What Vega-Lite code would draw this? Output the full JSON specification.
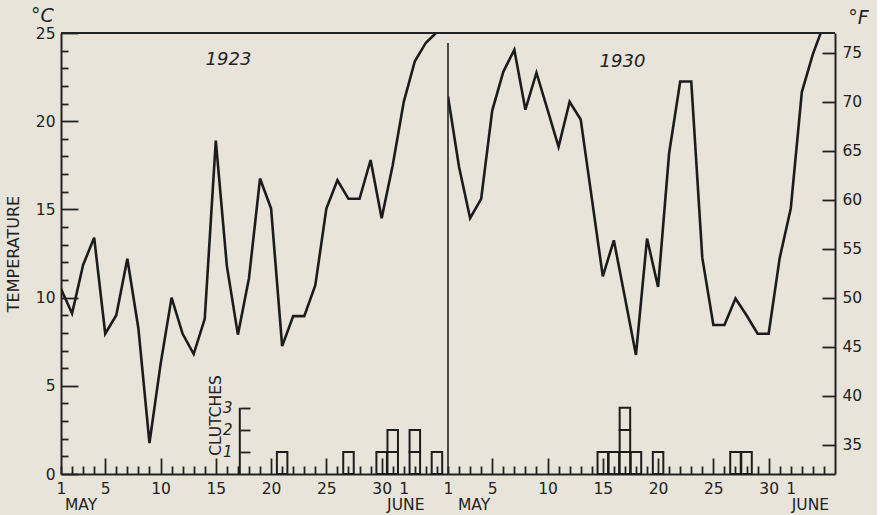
{
  "$schema": "https://vega.github.io/schema/vega-lite/v6.json",
  "background": "#e9e4da",
  "padding": {"left": 5, "top": 6, "right": 8, "bottom": 2},
  "spacing": 0,
  "bounds": "flush",
  "config": {
    "view": {"stroke": null},
    "font": "DejaVu Sans",
    "axis": {
      "grid": false,
      "domainColor": "#222",
      "domainWidth": 2,
      "tickColor": "#222",
      "tickWidth": 1.8,
      "labelColor": "#222",
      "titleColor": "#222",
      "labelFont": "DejaVu Sans",
      "titleFont": "DejaVu Sans",
      "labelFontSize": 15.5,
      "titleFontSize": 16,
      "titleFontWeight": "normal",
      "labelFlush": false,
      "labelOverlap": false,
      "labelBound": false
    }
  },
  "datasets": {
    "t1923": [
      {"day": 1, "temp": 10.5}, {"day": 2, "temp": 9.1}, {"day": 3, "temp": 11.85}, {"day": 4, "temp": 13.4},
      {"day": 5, "temp": 7.95}, {"day": 6, "temp": 9.0}, {"day": 7, "temp": 12.2}, {"day": 8, "temp": 8.25},
      {"day": 9, "temp": 1.75}, {"day": 10, "temp": 6.2}, {"day": 11, "temp": 10.0}, {"day": 12, "temp": 7.95},
      {"day": 13, "temp": 6.8}, {"day": 14, "temp": 8.8}, {"day": 15, "temp": 18.9}, {"day": 16, "temp": 11.8},
      {"day": 17, "temp": 7.9}, {"day": 18, "temp": 11.1}, {"day": 19, "temp": 16.75}, {"day": 20, "temp": 15.05},
      {"day": 21, "temp": 7.25}, {"day": 22, "temp": 8.95}, {"day": 23, "temp": 8.95}, {"day": 24, "temp": 10.7},
      {"day": 25, "temp": 15.05}, {"day": 26, "temp": 16.65}, {"day": 27, "temp": 15.6}, {"day": 28, "temp": 15.6},
      {"day": 29, "temp": 17.8}, {"day": 30, "temp": 14.5}, {"day": 31, "temp": 17.5}, {"day": 32, "temp": 21.1},
      {"day": 33, "temp": 23.4}, {"day": 34, "temp": 24.45}, {"day": 35, "temp": 25.05}
    ],
    "t1930": [
      {"day": 1, "temp": 21.4}, {"day": 2, "temp": 17.4}, {"day": 3, "temp": 14.5}, {"day": 4, "temp": 15.6},
      {"day": 5, "temp": 20.6}, {"day": 6, "temp": 22.8}, {"day": 7, "temp": 24.05}, {"day": 8, "temp": 20.65},
      {"day": 9, "temp": 22.75}, {"day": 10, "temp": 20.65}, {"day": 11, "temp": 18.55}, {"day": 12, "temp": 21.1},
      {"day": 13, "temp": 20.1}, {"day": 14, "temp": 15.65}, {"day": 15, "temp": 11.2}, {"day": 16, "temp": 13.25},
      {"day": 17, "temp": 10.0}, {"day": 18, "temp": 6.75}, {"day": 19, "temp": 13.35}, {"day": 20, "temp": 10.6},
      {"day": 21, "temp": 18.2}, {"day": 22, "temp": 22.25}, {"day": 23, "temp": 22.25}, {"day": 24, "temp": 12.25},
      {"day": 25, "temp": 8.45}, {"day": 26, "temp": 8.45}, {"day": 27, "temp": 9.95}, {"day": 28, "temp": 9.0},
      {"day": 29, "temp": 7.95}, {"day": 30, "temp": 7.95}, {"day": 31, "temp": 12.25}, {"day": 32, "temp": 15.05},
      {"day": 33, "temp": 21.65}, {"day": 34, "temp": 23.8}, {"day": 35, "temp": 25.5}
    ],
    "c1923": [
      {"day": 21, "n": 1}, {"day": 27, "n": 1}, {"day": 30, "n": 1}, {"day": 31, "n": 1}, {"day": 31, "n": 1},
      {"day": 33, "n": 1}, {"day": 33, "n": 1}, {"day": 35, "n": 1}
    ],
    "c1930": [
      {"day": 15, "n": 1}, {"day": 16, "n": 1}, {"day": 17, "n": 1}, {"day": 17, "n": 1}, {"day": 17, "n": 1},
      {"day": 18, "n": 1}, {"day": 20, "n": 1}, {"day": 27, "n": 1}, {"day": 28, "n": 1}
    ]
  },
  "hconcat": [
    {
      "width": 387,
      "height": 441,
      "title": {"text": "1923", "fontSize": 18, "fontStyle": "italic", "fontWeight": "normal", "font": "DejaVu Sans", "color": "#222", "anchor": "middle", "frame": "group", "offset": -33, "baseline": "alphabetic", "dx": -26, "dy": 44},
      "layer": [
        {
          "data": {"name": "t1923"},
          "mark": {"type": "line", "color": "#1c1c1c", "strokeWidth": 2.6, "clip": true},
          "encoding": {
            "x": {
              "field": "day", "type": "quantitative",
              "scale": {"domain": [1, 36], "nice": false, "zero": false, "padding": 0},
              "axis": {
                "orient": "bottom",
                "values": [1,2,3,4,5,6,7,8,9,10,11,12,13,14,15,16,17,18,19,20,21,22,23,24,25,26,27,28,29,30,31,32,33,34,35],
                "tickSize": {"condition": {"test": "datum.value % 5 === 0 && datum.value <= 30", "value": -16}, "value": -8},
                "labelPadding": {"condition": {"test": "datum.value % 5 === 0 && datum.value <= 30", "value": 23}, "value": 15},
                "labelExpr": "(datum.value === 1 || datum.value === 32) ? '1' : (datum.value % 5 === 0 && datum.value <= 30) ? datum.label : ''",
                "title": null
              }
            },
            "y": {
              "field": "temp", "type": "quantitative",
              "scale": {"domain": [0, 25], "nice": false, "zero": false},
              "axis": {
                "orient": "left",
                "values": [0,1,2,3,4,5,6,7,8,9,10,11,12,13,14,15,16,17,18,19,20,21,22,23,24,25],
                "tickSize": {"condition": {"test": "datum.value % 5 === 0", "value": -17}, "value": -7},
                "labelPadding": {"condition": {"test": "datum.value % 5 === 0", "value": 23}, "value": 13},
                "labelExpr": "datum.value % 5 === 0 ? datum.label : ''",
                "labelBaseline": "middle",
                "title": "TEMPERATURE",
                "titleX": -48,
                "titleY": 220.5,
                "titleAngle": 270,
                "titleBaseline": "middle",
                "titleAlign": "center",
                "titleFontSize": 16
              }
            }
          }
        },
        {
          "data": {"values": [{}]},
          "mark": {"type": "rule", "color": "#222", "strokeWidth": 2},
          "encoding": {
            "x": {"datum": 1, "type": "quantitative", "axis": null},
            "x2": {"datum": 36},
            "y": {
              "datum": 25, "type": "quantitative",
              "scale": {"domain": [0, 25], "nice": false, "zero": false},
              "axis": {
                "orient": "left", "domain": false, "ticks": false, "labels": false,
                "title": "°C", "titleAngle": 0, "titleX": -19, "titleY": -12,
                "titleAlign": "center", "titleBaseline": "alphabetic",
                "titleFontSize": 19, "titleFontStyle": "italic"
              }
            }
          }
        },
        {
          "data": {"name": "c1923"},
          "mark": {"type": "bar", "orient": "vertical", "fill": "transparent", "stroke": "#1c1c1c", "strokeWidth": 2, "width": 10.5},
          "encoding": {
            "x": {"field": "day", "type": "quantitative", "axis": null},
            "y": {
              "field": "n", "type": "quantitative", "stack": "zero",
              "scale": {"domain": [0, 20], "nice": false, "zero": true},
              "axis": {
                "orient": "left", "offset": -179, "values": [1, 2, 3], "domain": false,
                "tickSize": -10, "labelPadding": 18,
                "labelFontStyle": "italic", "labelFontSize": 15, "labelBaseline": "middle",
                "title": "CLUTCHES", "titleX": -20, "titleY": 382, "titleAngle": 270,
                "titleAlign": "center", "titleBaseline": "alphabetic", "titleFontSize": 15.5
              }
            }
          }
        },
        {
          "data": {"values": [{}]},
          "mark": {"type": "rule", "color": "#1c1c1c", "strokeWidth": 2},
          "encoding": {
            "x": {"datum": 17.17, "type": "quantitative", "axis": null},
            "y": {"datum": 0, "type": "quantitative", "scale": {"domain": [0, 20], "nice": false, "zero": true}, "axis": null},
            "y2": {"datum": 3}
          }
        },
        {
          "data": {"values": [{"day": 1, "month": "MAY"}]},
          "mark": {"type": "text", "align": "left", "baseline": "alphabetic", "dx": 4, "fontSize": 15.5, "color": "#222"},
          "encoding": {
            "x": {"field": "day", "type": "quantitative", "axis": null},
            "y": {"datum": -2.05, "type": "quantitative", "scale": {"domain": [0, 25], "nice": false, "zero": false}, "axis": null},
            "text": {"field": "month"}
          }
        },
        {
          "data": {"values": [{"day": 32, "month": "JUNE"}]},
          "mark": {"type": "text", "align": "center", "baseline": "alphabetic", "dx": 2, "fontSize": 15.5, "color": "#222"},
          "encoding": {
            "x": {"field": "day", "type": "quantitative", "axis": null},
            "y": {"datum": -2.05, "type": "quantitative", "scale": {"domain": [0, 25], "nice": false, "zero": false}, "axis": null},
            "text": {"field": "month"}
          }
        }
      ],
      "resolve": {"scale": {"y": "independent"}, "axis": {"x": "independent", "y": "independent"}}
    },
    {
      "width": 387,
      "height": 441,
      "title": {"text": "1930", "fontSize": 18, "fontStyle": "italic", "fontWeight": "normal", "font": "DejaVu Sans", "color": "#222", "anchor": "middle", "frame": "group", "offset": -33, "baseline": "alphabetic", "dx": -19, "dy": 44},
      "layer": [
        {
          "data": {"name": "t1930"},
          "mark": {"type": "line", "color": "#1c1c1c", "strokeWidth": 2.6, "clip": true},
          "encoding": {
            "x": {
              "field": "day", "type": "quantitative",
              "scale": {"domain": [1, 36], "nice": false, "zero": false, "padding": 0},
              "axis": {
                "orient": "bottom",
                "values": [1,2,3,4,5,6,7,8,9,10,11,12,13,14,15,16,17,18,19,20,21,22,23,24,25,26,27,28,29,30,31,32,33,34,35],
                "tickSize": {"condition": {"test": "datum.value % 5 === 0 && datum.value <= 30", "value": -16}, "value": -8},
                "labelPadding": {"condition": {"test": "datum.value % 5 === 0 && datum.value <= 30", "value": 23}, "value": 15},
                "labelExpr": "(datum.value === 1 || datum.value === 32) ? '1' : (datum.value % 5 === 0 && datum.value <= 30) ? datum.label : ''",
                "title": null
              }
            },
            "y": {
              "field": "temp", "type": "quantitative",
              "scale": {"domain": [0, 25], "nice": false, "zero": false},
              "axis": null
            }
          }
        },
        {
          "data": {"values": [{}]},
          "mark": {"type": "rule", "color": "#222", "strokeWidth": 2},
          "encoding": {
            "x": {"datum": 1, "type": "quantitative", "axis": null},
            "x2": {"datum": 36},
            "y": {
              "datum": 77, "type": "quantitative",
              "scale": {"domain": [32, 77], "nice": false, "zero": false},
              "axis": {
                "orient": "right",
                "values": [35, 40, 45, 50, 55, 60, 65, 70, 75],
                "tickSize": -13, "labelPadding": 20, "labelBaseline": "middle",
                "title": "°F", "titleAngle": 0, "titleX": 23, "titleY": -10,
                "titleAlign": "center", "titleBaseline": "alphabetic",
                "titleFontSize": 19, "titleFontStyle": "italic"
              }
            }
          }
        },
        {
          "data": {"name": "c1930"},
          "mark": {"type": "bar", "orient": "vertical", "fill": "transparent", "stroke": "#1c1c1c", "strokeWidth": 2, "width": 10.5},
          "encoding": {
            "x": {"field": "day", "type": "quantitative", "axis": null},
            "y": {
              "field": "n", "type": "quantitative", "stack": "zero",
              "scale": {"domain": [0, 20], "nice": false, "zero": true},
              "axis": null
            }
          }
        },
        {
          "data": {"values": [{}]},
          "mark": {"type": "rule", "color": "#222", "strokeWidth": 1.6},
          "encoding": {
            "x": {"datum": 1, "type": "quantitative", "axis": null},
            "y": {"datum": 0, "type": "quantitative", "scale": {"domain": [0, 25], "nice": false, "zero": false}, "axis": null},
            "y2": {"datum": 24.43}
          }
        },
        {
          "data": {"values": [{"day": 1, "month": "MAY"}]},
          "mark": {"type": "text", "align": "left", "baseline": "alphabetic", "dx": 10, "fontSize": 15.5, "color": "#222"},
          "encoding": {
            "x": {"field": "day", "type": "quantitative", "axis": null},
            "y": {"datum": -2.05, "type": "quantitative", "scale": {"domain": [0, 25], "nice": false, "zero": false}, "axis": null},
            "text": {"field": "month"}
          }
        },
        {
          "data": {"values": [{"day": 32, "month": "JUNE"}]},
          "mark": {"type": "text", "align": "left", "baseline": "alphabetic", "dx": 1, "fontSize": 15.5, "color": "#222"},
          "encoding": {
            "x": {"field": "day", "type": "quantitative", "axis": null},
            "y": {"datum": -2.05, "type": "quantitative", "scale": {"domain": [0, 25], "nice": false, "zero": false}, "axis": null},
            "text": {"field": "month"}
          }
        }
      ],
      "resolve": {"scale": {"y": "independent"}, "axis": {"x": "independent", "y": "independent"}}
    }
  ]
}
